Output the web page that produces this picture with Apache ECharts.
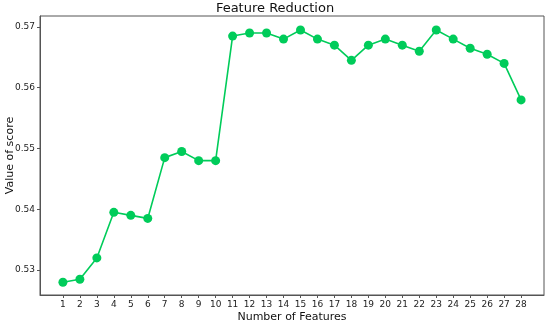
<!DOCTYPE html>
<html><head><meta charset="utf-8">
<script src="https://cdn.jsdelivr.net/npm/echarts@6/dist/echarts.min.js"></script>
<style>html,body{margin:0;padding:0;background:#fff}#c{width:550px;height:324px}</style>
</head><body><div id="c"></div>
<script>
const features = [1,2,3,4,5,6,7,8,9,10,11,12,13,14,15,16,17,18,19,20,21,22,23,24,25,26,27,28];
const scores = [0.528,0.5285,0.532,0.5395,0.539,0.5385,0.5485,0.5495,0.548,0.548,0.5685,0.569,0.569,0.568,0.5695,0.568,0.567,0.5645,0.567,0.568,0.567,0.566,0.5695,0.568,0.5665,0.5655,0.564,0.558];
const yTicks = [0.53,0.54,0.55,0.56,0.57];
const title = 'Feature Reduction';
const xName = 'Number of Features';
const yName = 'Value of score';

const chart = echarts.init(document.getElementById('c'), null, {renderer:'canvas'});
const font = 'DejaVu Sans';
const lineColor = '#555';
chart.setOption({
  animation:false,
  backgroundColor:'#fff',
  title:{text:title,left:'center',top:2,padding:0,textStyle:{fontFamily:font,fontSize:13,fontWeight:'normal',color:'#111'}},
  grid:{left:40,right:6,top:16,bottom:29,containLabel:false,outerBoundsMode:'none'},
  xAxis:{type:'value',min:-0.35,max:29.35,
    name:xName,nameLocation:'middle',nameGap:16.5,nameMoveOverlap:false,
    nameTextStyle:{fontFamily:font,fontSize:11,color:'#111'},
    axisLine:{show:true,onZero:false,lineStyle:{color:lineColor,width:1}},
    axisTick:{show:true,length:3,customValues:features,lineStyle:{color:lineColor}},
    axisLabel:{customValues:features,fontFamily:font,fontSize:9,color:'#222',margin:5},
    splitLine:{show:false}},
  yAxis:{type:'value',min:0.5259,max:0.5718,
    name:yName,nameLocation:'middle',nameGap:24,nameMoveOverlap:false,
    nameTextStyle:{fontFamily:font,fontSize:11,color:'#111'},
    axisLine:{show:true,onZero:false,lineStyle:{color:lineColor,width:1}},
    axisTick:{show:true,length:3,customValues:yTicks,lineStyle:{color:lineColor}},
    axisLabel:{customValues:yTicks,fontFamily:font,fontSize:9,color:'#222',margin:5,formatter:v=>v.toFixed(2)},
    splitLine:{show:false}},
  series:[{type:'line',data:features.map((f,i)=>[f,scores[i]]),
    symbol:'circle',symbolSize:9,
    lineStyle:{color:'#00cc5a',width:1.6},
    itemStyle:{color:'#00cc5a'}}],
  graphic:[{type:'rect',shape:{x:40,y:16,width:504,height:279},style:{fill:null,stroke:lineColor,lineWidth:1},silent:true,z:-1}]
});
</script></body></html>
